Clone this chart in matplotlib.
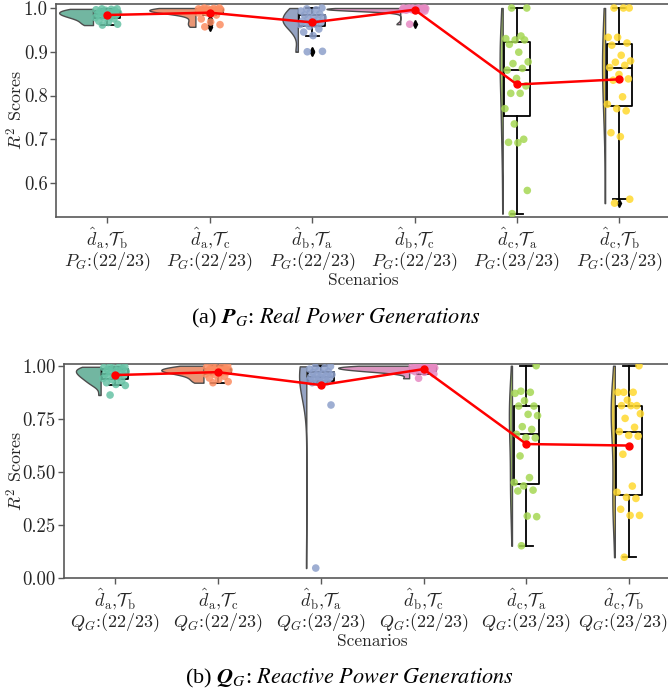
"""Raincloud plots of R2 scores for P_G and Q_G"""
import numpy as np
import matplotlib
matplotlib.use("Agg")
import matplotlib.pyplot as plt
import matplotlib.transforms as mtransforms
import seaborn as sns

plt.rcParams['font.family'] = 'cmr10'
plt.rcParams['mathtext.fontset'] = 'cm'
plt.rcParams['axes.formatter.use_mathtext'] = True

# R^2 scores, one list per scenario
pg_ab = [.961, .963, .967, .970, .975, .977, .978, .980, .982, .984, .985, .986,
         .987, .988, .989, .990, .992, .994, .995, .996, .997, .998, .998]
pg_ac = [.957, .962, .968, .975, .984, .989, .989, .990, .991, .992, .993, .994,
         .995, .995, .996, .996, .997, .997, .998, .998, .999, 1.0, 1.0]
pg_ba = [.900, .901, .937, .945, .952, .958, .962, .963, .965, .967, .968, .970,
         .973, .976, .978, .980, .984, .986, .990, .993, .996, .998, 1.0]
pg_bc = [.963, .993, .994, .995, .995, .996, .996, .997, .997, .997, .998, .998,
         .998, .998, .999, .999, .999, .999, 1.0, 1.0, 1.0, 1.0, 1.0]
pg_ca = [.530, .583, .692, .693, .700, .735, .770, .805, .805, .822, .839, .858,
         .862, .873, .877, .899, .917, .927, .927, .930, .936, 1.0, 1.0]
pg_cb = [.554, .563, .706, .715, .765, .770, .780, .797, .835, .838, .848, .864,
         .869, .876, .879, .892, .915, .920, .933, .933, 1.0, 1.0, 1.0]

qg_ab = [.862, .907, .912, .920, .928, .934, .940, .945, .950, .955, .958, .961,
         .965, .970, .973, .977, .982, .986, .989, .991, .993, .994, .995]
qg_ac = [.920, .925, .935, .942, .950, .957, .961, .965, .968, .970, .972, .975,
         .977, .979, .980, .982, .985, .987, .990, .993, .995, .998, 1.0]
qg_ba = [.047, .815, .917, .920, .925, .928, .930, .935, .940, .943, .946, .948,
         .952, .955, .958, .962, .968, .972, .978, .984, .990, .994, .997]
qg_bc = [.941, .961, .969, .972, .975, .976, .978, .980, .982, .984, .985, .987,
         .988, .989, .990, .992, .994, .996, .997, .998, .999, 1.0, 1.0]
qg_ca = [.152, .289, .292, .410, .414, .434, .450, .473, .575, .660, .661, .677,
         .700, .713, .765, .771, .810, .810, .835, .870, .875, .880, 1.0]
qg_cb = [.098, .295, .295, .324, .375, .380, .404, .433, .583, .668, .672, .690,
         .710, .752, .774, .812, .812, .812, .838, .875, .875, .875, 1.0]

pg_data = [pg_ab, pg_ac, pg_ba, pg_bc, pg_ca, pg_cb]
qg_data = [qg_ab, qg_ac, qg_ba, qg_bc, qg_ca, qg_cb]

scen = [("a", "b"), ("a", "c"), ("b", "a"), ("b", "c"), ("c", "a"), ("c", "b")]
pg_count = [22, 22, 22, 22, 23, 23]
qg_count = [22, 22, 23, 22, 23, 23]

# half-violin widths as seen in the picture
pg_vwidth = [0.66, 0.90, 0.30, 1.44, 0.06, 0.06]
qg_vwidth = [0.48, 0.82, 0.14, 1.38, 0.06, 0.08]


def raincloud(ax, data, vwidth, var, counts, yticks, yfmt, fliers):
    """half violin + box + strip + mean line"""
    colors = sns.color_palette("Set2", 6)
    pos = np.arange(len(data))

    parts = ax.violinplot(data, positions=pos - 0.14, widths=vwidth,
                          showextrema=False, side='low', points=200)
    for body, col in zip(parts['bodies'], colors):
        body.set_facecolor(sns.desaturate(col, 0.75))
        body.set_edgecolor('0.3')
        body.set_linewidth(1.0)
        body.set_alpha(1)

    ax.boxplot(data, positions=pos, widths=0.25, manage_ticks=False,
               showfliers=fliers,
               boxprops=dict(color='black', linewidth=1.3),
               whiskerprops=dict(color='black', linewidth=1.3),
               capprops=dict(color='black', linewidth=1.3),
               medianprops=dict(color='black', linewidth=1.3),
               flierprops=dict(marker='d', markerfacecolor='black',
                               markeredgecolor='black', markersize=4),
               zorder=3)

    for i, vals in enumerate(data):
        n = len(vals)
        jit = ((np.arange(n) * 0.618034 + 0.3) % 1 - 0.5) * 0.24
        ax.scatter(pos[i] + jit, vals, s=30, color=colors[i], alpha=0.85,
                   edgecolors='none', zorder=4)

    means = [np.mean(v) for v in data]
    ax.plot(pos, means, color='red', lw=1.8, marker='o', ms=5, zorder=6)

    labels = []
    for (d, t), c in zip(scen, counts):
        labels.append(r"$\hat{d}_{\mathrm{%s}}$,$\mathcal{T}_{\mathrm{%s}}$"
                      "\n$%s_G$:(%d/23)" % (d, t, var, c))
    ax.set_xticks(pos)
    ax.set_xticklabels(labels, fontsize=13, color='0.15', linespacing=1.0)
    ax.set_xlim(-0.5, 5.5)
    ax.set_yticks(yticks)
    ax.set_yticklabels([yfmt % v for v in yticks], fontsize=13.5, color='0.15')
    ax.set_xlabel("Scenarios", fontsize=12.5, color='0.15', labelpad=0)
    ax.set_ylabel(r"$R^2$ Scores", fontsize=13, color='0.15')
    for side in ['top', 'bottom', 'left', 'right']:
        ax.spines[side].set_color('0.35')
        ax.spines[side].set_linewidth(1.2)
    ax.tick_params(length=4, width=1, color='0.35', pad=2)


fig = plt.figure(figsize=(6.68, 6.94), dpi=100)
ax1 = fig.add_axes([0.084, 0.6873, 0.92, 0.3069])
ax2 = fig.add_axes([0.0952, 0.1671, 0.9237, 0.3088])

raincloud(ax1, pg_data, pg_vwidth, "P", pg_count,
          [0.6, 0.7, 0.8, 0.9, 1.0], "%.1f", True)
ax1.set_ylim(0.5223, 1.0091)
ax1.yaxis.set_label_coords(-0.050, 0.5)
raincloud(ax2, qg_data, qg_vwidth, "Q", qg_count,
          [0.0, 0.25, 0.5, 0.75, 1.0], "%.2f", False)
ax2.set_ylim(0.0, 1.0094)
ax2.yaxis.set_label_coords(-0.062, 0.5)

# keep the last bottom label inside the canvas, as in the reference
last = ax2.get_xticklabels()[-1]
last.set_transform(last.get_transform() +
                   mtransforms.ScaledTranslation(-6 / 100, 0, fig.dpi_scale_trans))

fig.text(0.503, 0.542,
         r"(a) $\boldsymbol{P}_G$: $\mathit{Real\ Power\ Generations}$",
         ha='center', va='center', fontsize=16, family='Liberation Serif',
         math_fontfamily='stix')
fig.text(0.523, 0.023,
         r"(b) $\boldsymbol{Q}_G$: $\mathit{Reactive\ Power\ Generations}$",
         ha='center', va='center', fontsize=16, family='Liberation Serif',
         math_fontfamily='stix')

fig.savefig('out.png', dpi=100)
